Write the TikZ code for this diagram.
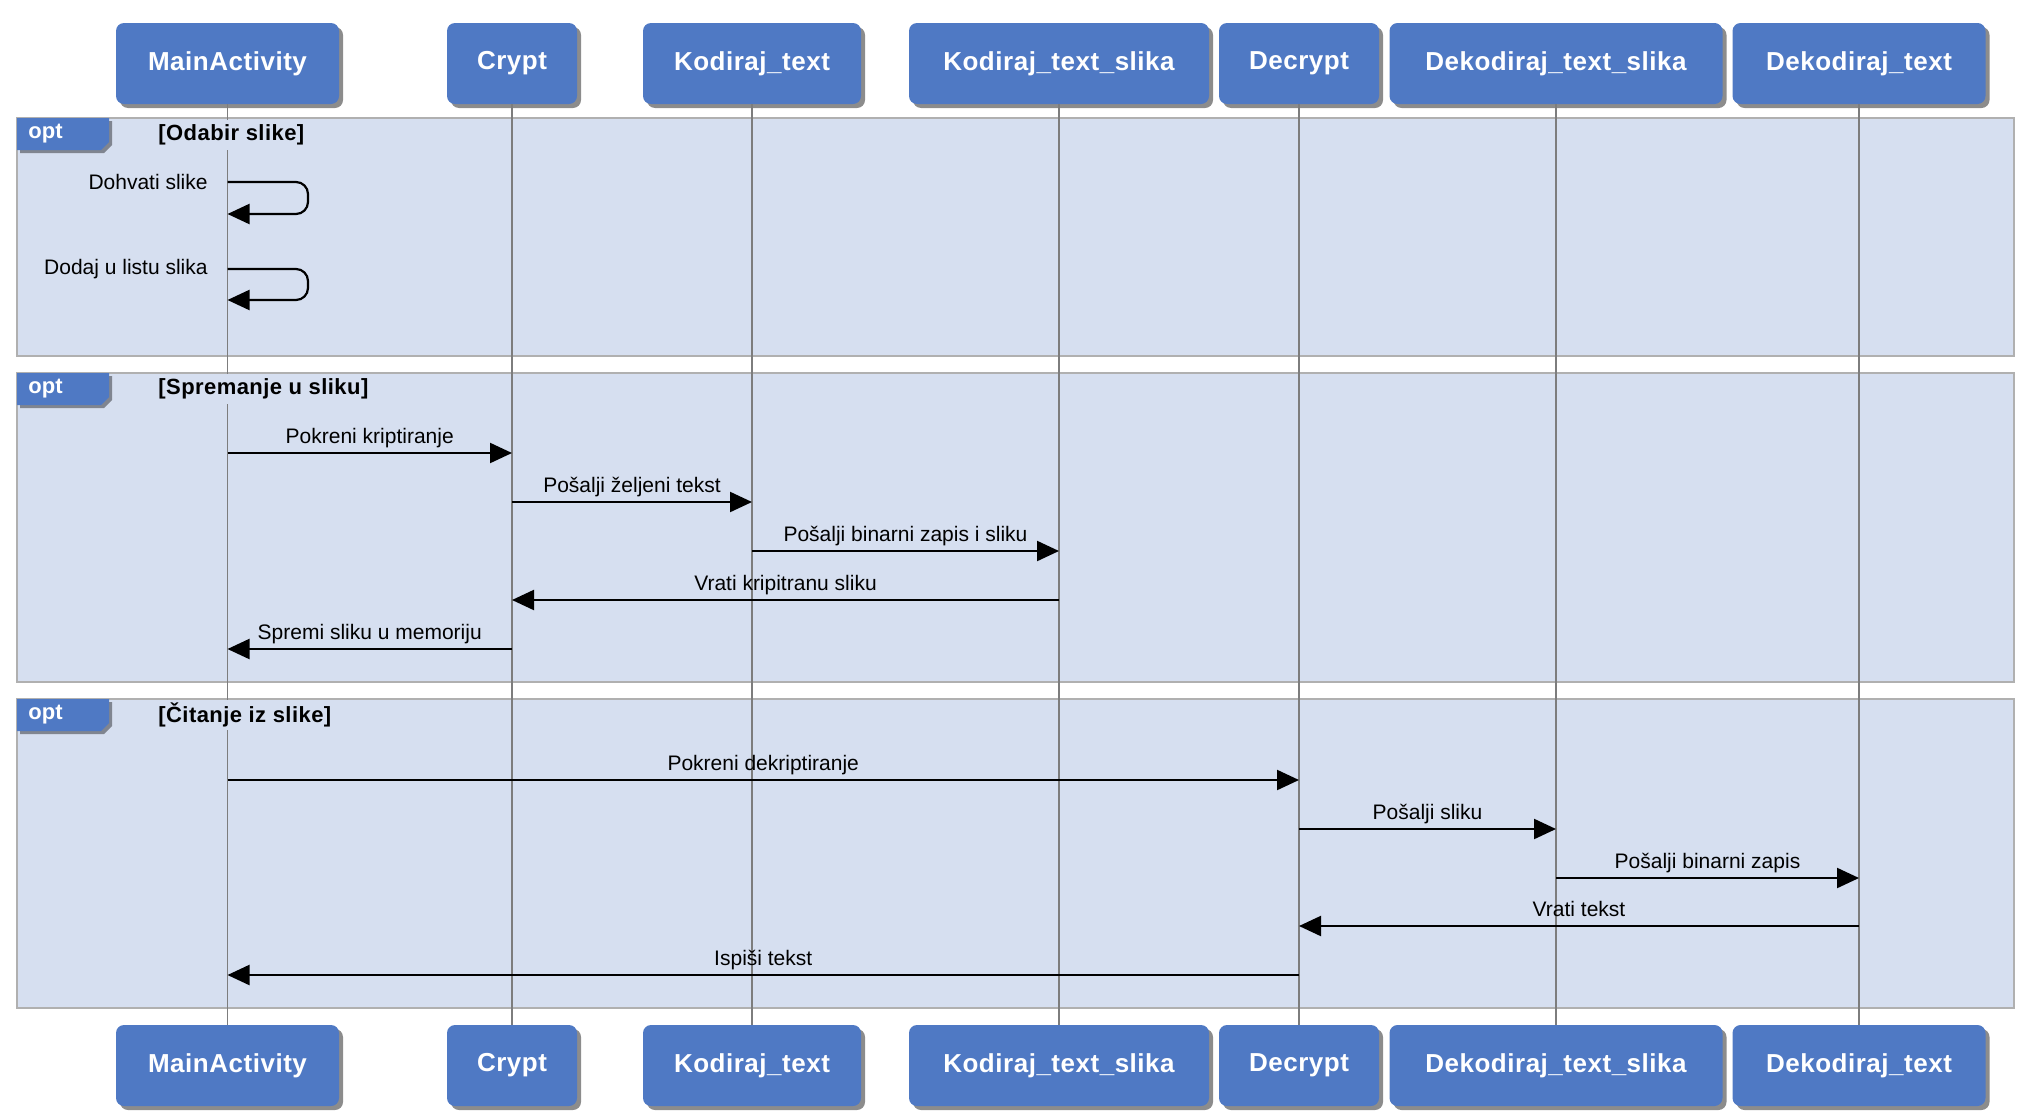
\documentclass[tikz,border=0pt]{standalone}
\usepackage{fontspec}
\setmainfont{Liberation Sans}
\newfontfamily\hdrfont[LetterSpace=2]{Liberation Sans}
\usetikzlibrary{arrows.meta,shadows}
\definecolor{boxblue}{RGB}{79,121,196}
\definecolor{framefill}{RGB}{214,223,240}
\definecolor{framedraw}{RGB}{176,176,176}
\definecolor{lifegray}{RGB}{125,125,125}
\tikzset{
  actor/.style={fill=boxblue, rounded corners=4pt, minimum height=40.5pt, inner sep=0pt,
    text=white, font=\hdrfont\fontsize{13}{15}\selectfont\bfseries,
    drop shadow={shadow xshift=2pt, shadow yshift=-2pt, opacity=0.45, fill=black}},
  fragframe/.style={draw=framedraw, fill=framefill, line width=1pt},
  fragtag/.style={fill=boxblue, drop shadow={shadow xshift=1.5pt, shadow yshift=-1.5pt, opacity=0.4, fill=black}},
  tagtext/.style={anchor=west, inner sep=0pt, text=white, font=\fontsize{11}{13}\selectfont\bfseries},
  guard/.style={anchor=west, fill=framefill, inner sep=1pt, minimum height=15pt, font=\hdrfont\fontsize{11}{13}\selectfont\bfseries},
  life/.style={draw=lifegray, line width=0.9pt},
  msg/.style={draw=black, line width=1.1pt, -{Triangle[length=11pt,width=10pt]}},
  lbl/.style={anchor=base, yshift=5pt, inner sep=0pt, font=\fontsize{10.5}{12}\selectfont},
  selflbl/.style={anchor=east, inner sep=0pt, font=\fontsize{10.5}{12}\selectfont},
}
\begin{document}
\begin{tikzpicture}[x=0.5pt, y=-0.5pt]
\useasboundingbox (0,0) rectangle (2028,1119);

% combined fragments
\draw[fragframe] (17,118) rectangle (2014,356);
\draw[fragframe] (17,373) rectangle (2014,682);
\draw[fragframe] (17,699) rectangle (2014,1008);

% participants (top)
\node[actor, minimum width=111.5pt] (h1) at (227.5,63.5) {MainActivity};
\node[actor, minimum width=65pt]    (h2) at (512,63.5)   {Crypt};
\node[actor, minimum width=109pt]   (h3) at (752,63.5)   {Kodiraj\_text};
\node[actor, minimum width=150pt]   (h4) at (1059,63.5)  {Kodiraj\_text\_slika};
\node[actor, minimum width=80pt]    (h5) at (1299,63.5)  {Decrypt};
\node[actor, minimum width=166.5pt] (h6) at (1556,63.5)  {Dekodiraj\_text\_slika};
\node[actor, minimum width=126.5pt] (h7) at (1859,63.5)  {Dekodiraj\_text};
% participants (bottom)
\node[actor, minimum width=111.5pt] (b1) at (227.5,1065.5) {MainActivity};
\node[actor, minimum width=65pt]    (b2) at (512,1065.5)   {Crypt};
\node[actor, minimum width=109pt]   (b3) at (752,1065.5)   {Kodiraj\_text};
\node[actor, minimum width=150pt]   (b4) at (1059,1065.5)  {Kodiraj\_text\_slika};
\node[actor, minimum width=80pt]    (b5) at (1299,1065.5)  {Decrypt};
\node[actor, minimum width=166.5pt] (b6) at (1556,1065.5)  {Dekodiraj\_text\_slika};
\node[actor, minimum width=126.5pt] (b7) at (1859,1065.5)  {Dekodiraj\_text};

% lifelines
\foreach \i in {1,...,7} { \draw[life] (h\i.south) -- (b\i.north); }

% fragment tags and guards
\fill[fragtag] (17,118) -- (109,118) -- (109,142) -- (101,150) -- (17,150) -- cycle;
\node[tagtext] (t1) at (28,134) {opt};
\node[guard] (g1) at (156,135) {[Odabir slike]};
\fill[fragtag] (17,373) -- (109,373) -- (109,397) -- (101,405) -- (17,405) -- cycle;
\node[tagtext] (t2) at (28,389) {opt};
\node[guard] (g2) at (156,389) {[Spremanje u sliku]};
\fill[fragtag] (17,699) -- (109,699) -- (109,723) -- (101,731) -- (17,731) -- cycle;
\node[tagtext] (t3) at (28,715) {opt};
\node[guard] (g3) at (156,715) {[Čitanje iz slike]};

% fragment 1: self messages
\coordinate (s1a) at (h1 |- 0,182);
\coordinate (s1b) at (h1 |- 0,214);
\draw[msg, rounded corners=6pt] (s1a) -- (308,182) -- (308,214) -- (s1b);
\node[selflbl] (l1) at (208,182) {Dohvati slike};
\coordinate (s2a) at (h1 |- 0,269);
\coordinate (s2b) at (h1 |- 0,300);
\draw[msg, rounded corners=6pt] (s2a) -- (308,269) -- (308,300) -- (s2b);
\node[selflbl] (l2) at (208,269) {Dodaj u listu slika};

% fragment 2
\draw[msg] (h1 |- 0,453) -- node[lbl] {Pokreni kriptiranje} (h2 |- 0,453);
\draw[msg] (h2 |- 0,502) -- node[lbl] {Pošalji željeni tekst} (h3 |- 0,502);
\draw[msg] (h3 |- 0,551) -- node[lbl] {Pošalji binarni zapis i sliku} (h4 |- 0,551);
\draw[msg] (h4 |- 0,600) -- node[lbl] {Vrati kripitranu sliku} (h2 |- 0,600);
\draw[msg] (h2 |- 0,649) -- node[lbl] {Spremi sliku u memoriju} (h1 |- 0,649);

% fragment 3
\draw[msg] (h1 |- 0,780) -- node[lbl] {Pokreni dekriptiranje} (h5 |- 0,780);
\draw[msg] (h5 |- 0,829) -- node[lbl] {Pošalji sliku} (h6 |- 0,829);
\draw[msg] (h6 |- 0,878) -- node[lbl] {Pošalji binarni zapis} (h7 |- 0,878);
\draw[msg] (h7 |- 0,926) -- node[lbl] {Vrati tekst} (h5 |- 0,926);
\draw[msg] (h5 |- 0,975) -- node[lbl] {Ispiši tekst} (h1 |- 0,975);
\end{tikzpicture}
\end{document}
